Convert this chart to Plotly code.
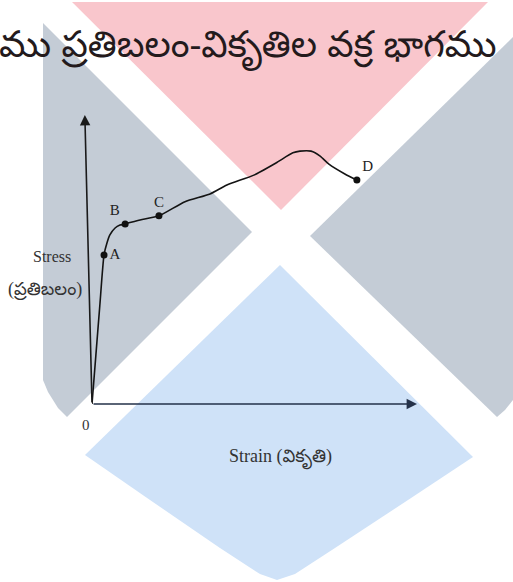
import plotly.graph_objects as go

W, H = 513, 582

# stress-strain curve (arbitrary units, 0..100 on both axes)
strain = [0.0, 1.2, 2.4, 3.7, 4.6, 5.5, 7.1, 8.6, 10.2, 14.8, 20.6, 28.6, 36.3,
          41.5, 49.8, 56.6, 61.8, 64.0, 67.4, 70.2, 72.9, 77.8, 81.5]
stress = [0.0, 17.0, 34.0, 51.6, 55.7, 58.5, 60.9, 61.9, 62.3, 63.7, 65.1, 70.0,
          72.7, 75.8, 79.2, 83.4, 86.9, 87.5, 87.5, 85.8, 83.0, 79.6, 77.5]

point_names = ["A", "B", "C", "D"]
point_strain = [3.7, 10.2, 20.6, 81.5]
point_stress = [51.6, 62.3, 65.1, 77.5]
point_textpos = ["middle right", "top left", "top center", "top right"]

title_text = "ము ప్రతిబలం-వికృతిల వక్ర భాగము"
x_label = "Strain (వికృతి)"
y_label = ["Stress", "(ప్రతిబలం)"]

# pixel geometry of the drawn axes (origin and arrow tips)
ORIGIN = (92, 404)
X_TIP = 417
Y_TIP = 115

SERIF = "Liberation Serif, Noto Sans Telugu, serif"


def px(x):
    return x / W


def py(y):
    return 1 - y / H


def poly(points):
    s = "M " + " L ".join(f"{px(x):.4f},{py(y):.4f}" for x, y in points)
    return s + " Z"


# background watermark shapes (pixel coords)
GREY = "#c4ccd6"
PINK = "#f9c6cc"
BLUE = "#cfe2f8"
watermark = [
    (PINK, [(72, 2), (488, 2), (281, 210)]),
    (GREY, [(43, 23), (252, 232), (67, 417), (58, 408), (48, 392), (43, 380)]),
    (GREY, [(513, 37), (513, 400), (505, 410), (497, 417), (310, 236)]),
    (BLUE, [(280, 265), (473, 457), (405, 502), (335, 548), (295, 574), (277, 580),
            (260, 574), (220, 548), (150, 500), (85, 455)]),
]

fig = go.Figure()

fig.add_trace(go.Scatter(
    x=strain, y=stress, mode="lines",
    line=dict(color="#141414", width=1.6, shape="spline", smoothing=0.6),
    hoverinfo="skip",
))
fig.add_trace(go.Scatter(
    x=point_strain, y=point_stress, mode="markers+text",
    marker=dict(color="#111", size=7),
    text=point_names, textposition=point_textpos,
    textfont=dict(family=SERIF, size=15, color="#222"),
))

# axis arrows
fig.add_annotation(x=100, y=0, ax=0, ay=0, xref="x", yref="y", axref="x", ayref="y",
                   showarrow=True, arrowhead=2, arrowsize=1.3, arrowwidth=1.6,
                   arrowcolor="#25324a", text="")
fig.add_annotation(x=-2.2, y=100, ax=0, ay=0, xref="x", yref="y", axref="x", ayref="y",
                   showarrow=True, arrowhead=2, arrowsize=1.3, arrowwidth=1.6,
                   arrowcolor="#1a1a1a", text="")


def label(x, y, text, size):
    fig.add_annotation(x=px(x), y=py(y), xref="paper", yref="paper", text=text,
                       xanchor="center", yanchor="middle", showarrow=False,
                       font=dict(family=SERIF, size=size, color="#333"))


label(86, 425, "0", 15)
label(52, 256, y_label[0], 16)
label(45, 290, y_label[1], 18)
label(280, 458, x_label, 18)

fig.add_annotation(x=px(-3), y=py(50), xref="paper", yref="paper", text=title_text,
                   xanchor="left", yanchor="middle", showarrow=False,
                   font=dict(family="Noto Sans Telugu, Noto Sans, sans-serif", size=37,
                             color="#231a1c"))

for color, pts in watermark:
    fig.add_shape(type="path", path=poly(pts), xref="paper", yref="paper",
                  fillcolor=color, line=dict(width=0), layer="below")

hidden = dict(showgrid=False, zeroline=False, showticklabels=False, showline=False,
              fixedrange=True)
fig.update_xaxes(range=[0, 100], domain=[px(ORIGIN[0]), px(X_TIP)], **hidden)
fig.update_yaxes(range=[0, 100], domain=[py(ORIGIN[1]), py(Y_TIP)], **hidden)

fig.update_layout(
    width=W, height=H,
    margin=dict(l=0, r=0, t=0, b=0),
    paper_bgcolor="white",
    plot_bgcolor="rgba(0,0,0,0)",
    showlegend=False,
)

# the page body has a default 8px margin; drop it so the figure sits at the corner
fig.write_html("out.html", post_script="document.body.style.margin='0';",
               config={"displayModeBar": False})
